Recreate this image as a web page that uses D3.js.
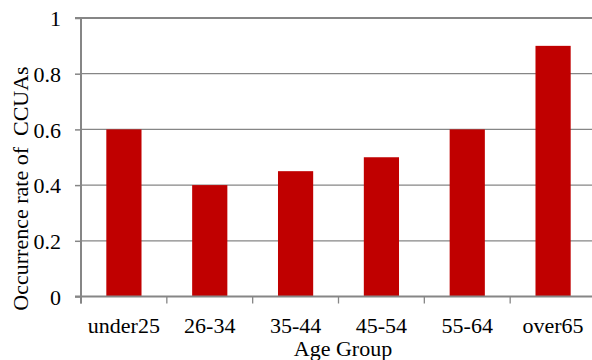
<!DOCTYPE html>
<html><head><meta charset="utf-8">
<script src="https://cdn.jsdelivr.net/npm/d3@7"></script>
<style>body{margin:0;background:#fff}svg{display:block}</style>
</head><body>
<svg id="c" width="592" height="360"></svg>
<script>
const categories = ["under25","26-34","35-44","45-54","55-64","over65"];
const values = [0.6, 0.4, 0.45, 0.5, 0.6, 0.9];
const yTicks = [0, 0.2, 0.4, 0.6, 0.8, 1];
const yTickLabels = ["0","0.2","0.4","0.6","0.8","1"];
const xTitle = "Age Group";
const yTitle = "Occurrence rate of  CCUAs";

(function(){
const FF = "'Liberation Serif', 'DejaVu Serif', 'Times New Roman', serif";
const FS = "22px";
const svg = d3.select("#c");
const pl = 81, pr = 596, pt = 18, pb = 296.5;
const x = d3.scaleBand().domain(categories).range([pl, pr]).paddingInner(0.59).paddingOuter(0.295);
const xb = d3.scaleBand().domain(categories).range([pl, pr]);
const y = d3.scaleLinear().domain([0, 1]).range([pb, pt]);
const grey = "#868686";

svg.append("g").selectAll("line").data(yTicks.slice(1)).join("line")
  .attr("x1", pl).attr("x2", pr)
  .attr("y1", d => y(d)).attr("y2", d => y(d))
  .attr("stroke", grey).attr("stroke-width", d => d===1?2:1.3);

svg.append("g").selectAll("rect").data(values).join("rect")
  .attr("x", (d,i) => x(categories[i])).attr("width", x.bandwidth())
  .attr("y", d => y(d)).attr("height", d => y(0) - y(d))
  .attr("fill", "#C00000");

const yAxis = d3.axisLeft(y).tickValues(yTicks).tickFormat((d,i)=>yTickLabels[i]).tickSize(6).tickPadding(14);
const gy = svg.append("g").attr("transform", `translate(${pl},0)`).call(yAxis);
gy.attr("font-family", null).attr("font-size", null);
gy.select(".domain").attr("stroke", grey).attr("stroke-width", 2).attr("d", `M-6,${y(1)}H0V${y(0)+7}`);
gy.selectAll(".tick line").attr("stroke", grey).attr("stroke-width", 1.5);
gy.selectAll(".tick text").style("font-family", FF).style("font-size", FS).attr("fill","#000").attr("dy","0.35em");

const gx = svg.append("g");
gx.append("line").attr("x1", pl-6).attr("x2", pr).attr("y1", y(0)).attr("y2", y(0)).attr("stroke", grey).attr("stroke-width", 2);
const bounds = categories.map(c => xb(c)).concat([pr]);
gx.selectAll("line.t").data(bounds).join("line").attr("class","t")
  .attr("x1", d=>d).attr("x2", d=>d).attr("y1", y(0)).attr("y2", y(0)+7)
  .attr("stroke", grey).attr("stroke-width", 1.3);
gx.selectAll("text").data(categories).join("text")
  .attr("x", d => xb(d) + xb.bandwidth()/2).attr("y", 333)
  .attr("text-anchor","middle").style("font-family", FF).style("font-size", FS).text(d=>d);

svg.append("text").attr("x", 343).attr("y", 356).attr("text-anchor","middle").style("font-family", FF).style("font-size", FS).text(xTitle);
svg.append("text").attr("transform","translate(28,188.5) rotate(-90)").attr("text-anchor","middle").style("font-family", FF).style("font-size", FS).style("white-space","pre").text(yTitle);
})();
</script>
</body></html>
